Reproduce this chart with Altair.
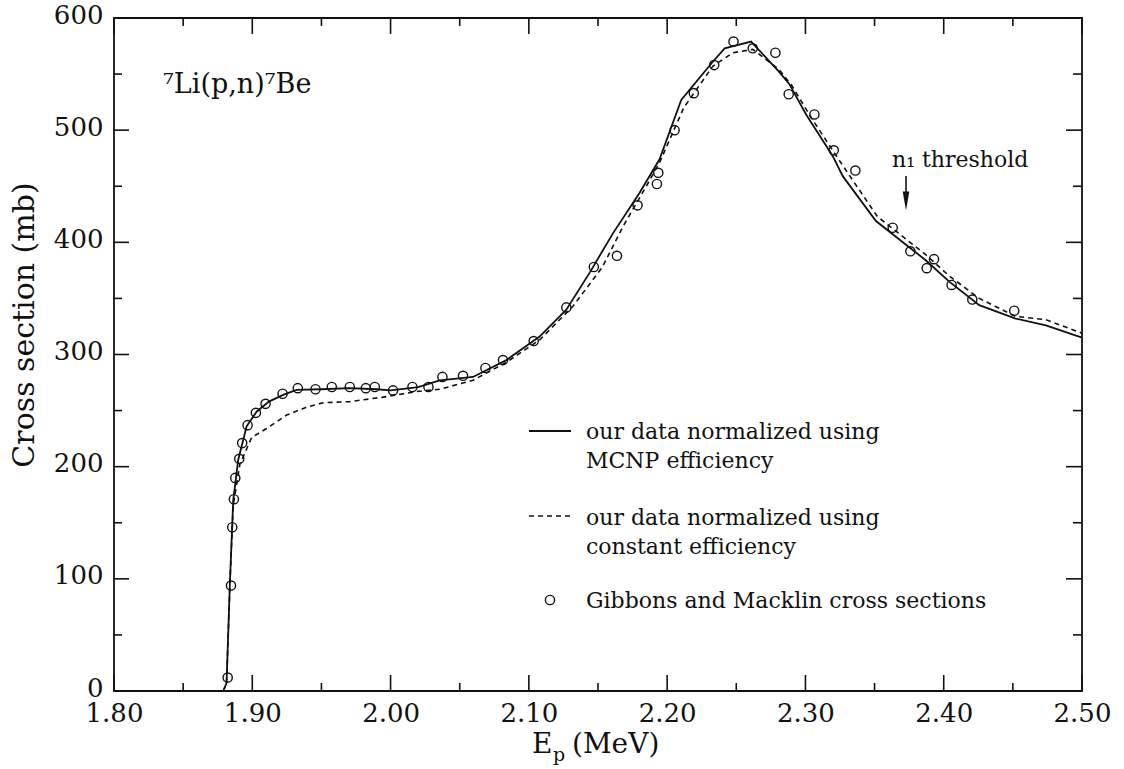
import altair as alt
import pandas as pd

# ---------------- data ----------------
solid_E = [1.8790, 1.8814, 1.8838, 1.8862, 1.8898, 1.8959, 1.9031, 1.9120, 1.9223, 1.9320,
           1.9500, 1.9700, 1.9900, 2.0000, 2.0200, 2.0355, 2.0596, 2.0837, 2.1078, 2.1271,
           2.1440, 2.1608, 2.1800, 2.1945, 2.2102, 2.2330, 2.2416, 2.2607, 2.2810, 2.2884,
           2.3005, 2.3197, 2.3270, 2.3510, 2.3870, 2.4040, 2.4257, 2.4520, 2.4739, 2.5000]
solid_xs = [0, 7, 96, 170, 206, 236, 249, 258, 264, 268.5,
            269, 270, 269, 268, 271, 277, 280, 295, 316, 340,
            373, 408, 444, 474, 527, 561, 573, 579, 552, 541,
            514, 477, 459, 419, 384, 365, 344, 332, 326, 315]

dashed_E = [1.8790, 1.8814, 1.8838, 1.8862, 1.8910, 1.8995, 1.9103, 1.9248, 1.9392, 1.9512,
            1.9705, 1.9946, 2.0187, 2.0355, 2.0596, 2.0837, 2.1078, 2.1319, 2.1532, 2.1680,
            2.1849, 2.1945, 2.2120, 2.2330, 2.2475, 2.2620, 2.2810, 2.2900, 2.3053, 2.3240,
            2.3300, 2.3520, 2.3870, 2.4040, 2.4257, 2.4520, 2.4740, 2.5000]
dashed_xs = [0, 7, 94, 165, 202, 226, 234, 246, 253, 257,
             258, 262, 267, 269, 277, 293, 313, 343, 378, 414,
             450, 471, 520, 557, 569, 572, 554, 540, 509, 474,
             463, 423, 389, 370, 350, 334, 331, 319]

gm_E = [1.8822, 1.8846, 1.8855, 1.8867, 1.8877, 1.8906, 1.8927, 1.8966, 1.9026, 1.9096,
        1.9219, 1.9329, 1.9457, 1.9575, 1.9705, 1.9821, 1.9886, 2.0018, 2.0158, 2.0274,
        2.0375, 2.0524, 2.0686, 2.0813, 2.1035, 2.1271, 2.1470, 2.1637, 2.1786, 2.1926,
        2.1936, 2.2054, 2.2193, 2.2340, 2.2480, 2.2619, 2.2783, 2.2879, 2.3065, 2.3205,
        2.3361, 2.3631, 2.3759, 2.3877, 2.3930, 2.4057, 2.4207, 2.4510]
gm_xs = [12, 94, 146, 171, 190, 207, 221, 237, 248, 256,
         265, 270, 269, 271, 271, 270, 271, 268, 271, 271,
         280, 281, 288, 295, 312, 342, 378, 388, 433, 452,
         462, 500, 533, 558, 579, 573, 569, 532, 514, 482,
         464, 413, 392, 377, 385, 362, 349, 339]

x_major = [1.80, 1.90, 2.00, 2.10, 2.20, 2.30, 2.40, 2.50]
x_minor = [1.85, 1.95, 2.05, 2.15, 2.25, 2.35, 2.45]
y_major = [0, 100, 200, 300, 400, 500, 600]
y_minor = [50, 150, 250, 350, 450, 550]

legend_lines = ["our data normalized using", "MCNP efficiency",
                "our data normalized using", "constant efficiency",
                "Gibbons and Macklin cross sections"]
reaction_label = "\u2077Li(p,n)\u2077Be"
threshold_label = "n\u2081 threshold"
y_title = "Cross section (mb)"

# ---------------- layout ----------------
W, H = 968, 673
FONT = "DejaVu Serif"
INK = "#111111"

xsc = alt.Scale(domain=[1.8, 2.5], nice=False, zero=False)
ysc = alt.Scale(domain=[0, 600], nice=False, zero=False)

df_solid = pd.DataFrame({"E": solid_E, "s": solid_xs})
df_dash = pd.DataFrame({"E": dashed_E, "s": dashed_xs})
df_gm = pd.DataFrame({"E": gm_E, "s": gm_xs})

x_axis = alt.Axis(values=x_major, format=".2f", ticks=False, domain=False, grid=False,
                  labelFont=FONT, labelFontSize=26, labelColor=INK, labelPadding=9,
                  title=None, labelFlush=False)
y_axis = alt.Axis(values=y_major, format="d", ticks=False, domain=False, grid=False,
                  labelFont=FONT, labelFontSize=26, labelColor=INK, labelPadding=11,
                  labelOffset=-3, labelFlush=False, title=None)


def X(field):
    return alt.X(field, scale=xsc, axis=x_axis)


def Y(field):
    return alt.Y(field, scale=ysc, axis=y_axis)


solid = alt.Chart(df_solid).mark_line(color=INK, strokeWidth=1.8).encode(
    x=X("E:Q"), y=Y("s:Q"))
dashed = alt.Chart(df_dash).mark_line(color=INK, strokeWidth=1.6, strokeDash=[5, 4]).encode(
    x=X("E:Q"), y=Y("s:Q"))
circles = alt.Chart(df_gm).mark_point(shape="circle", filled=False, color=INK,
                                     size=85, strokeWidth=1.4, opacity=1).encode(
    x=X("E:Q"), y=Y("s:Q"))


def xticks(vals, y0, y1):
    return alt.Chart(pd.DataFrame({"E": vals})).mark_rule(color=INK, strokeWidth=1.6).encode(
        x=X("E:Q"), y=alt.value(y0), y2=alt.value(y1))


def yticks(vals, x0, x1):
    return alt.Chart(pd.DataFrame({"s": vals})).mark_rule(color=INK, strokeWidth=1.6).encode(
        y=Y("s:Q"), x=alt.value(x0), x2=alt.value(x1))


ticks = [
    xticks(x_major, H, H - 16), xticks(x_minor, H, H - 8),
    xticks(x_major, 0, 16), xticks(x_minor, 0, 8),
    yticks(y_major, 0, 15), yticks(y_minor, 0, 8),
    yticks(y_major, W, W - 16), yticks(y_minor, W, W - 9),
]


def text(t, x, y, size, align="left", baseline="alphabetic", angle=0):
    kw = dict(align=align, baseline=baseline, font=FONT, fontSize=size, color=INK)
    if angle:
        kw["angle"] = angle
    return alt.Chart(pd.DataFrame({"t": [t]})).mark_text(**kw).encode(
        x=alt.value(x), y=alt.value(y), text="t:N")


one = pd.DataFrame({"a": [0]})
leg_solid = alt.Chart(one).mark_rule(color=INK, strokeWidth=1.8).encode(
    x=alt.value(415), x2=alt.value(457), y=alt.value(413))
leg_dash = alt.Chart(one).mark_rule(color=INK, strokeWidth=1.6, strokeDash=[5, 4]).encode(
    x=alt.value(415), x2=alt.value(457), y=alt.value(498))
leg_circ = alt.Chart(one).mark_point(shape="circle", filled=False, color=INK, size=85,
                                     strokeWidth=1.4, opacity=1).encode(
    x=alt.value(436), y=alt.value(582))

legend_texts = [
    text(legend_lines[0], 472, 421, 22),
    text(legend_lines[1], 472, 450, 22),
    text(legend_lines[2], 472, 507, 22),
    text(legend_lines[3], 472, 536, 22),
    text(legend_lines[4], 472, 590, 22),
]

arrow_shaft = alt.Chart(one).mark_rule(color=INK, strokeWidth=1.6).encode(
    x=alt.value(792), y=alt.value(158), y2=alt.value(180))
arrow_head = alt.Chart(one).mark_point(shape="M -0.35 -1 L 0.35 -1 L 0 1 Z", filled=True,
                                       color=INK, size=360, opacity=1, strokeWidth=0).encode(
    x=alt.value(792), y=alt.value(183))

annotations = [
    text(reaction_label, 49, 75, 27),
    text(threshold_label, 778, 149, 22),
    text("E", 418, 735, 28),
    text("p", 439, 743, 19),
    text("(MeV)", 458, 735, 28),
    text(y_title, -89, 307, 30, align="center", baseline="middle", angle=270),
]

chart = alt.layer(
    solid, dashed, circles, *ticks, leg_solid, leg_dash, leg_circ,
    *legend_texts, arrow_shaft, arrow_head, *annotations
).properties(
    width=W, height=H,
    padding={"left": 114, "top": 18, "right": 42, "bottom": 78},
    autosize=alt.AutoSizeParams(type="none"),
    background="white",
).configure_view(stroke=INK, strokeWidth=1.8)

chart.save("out.html", embed_options={"renderer": "svg", "actions": False})
